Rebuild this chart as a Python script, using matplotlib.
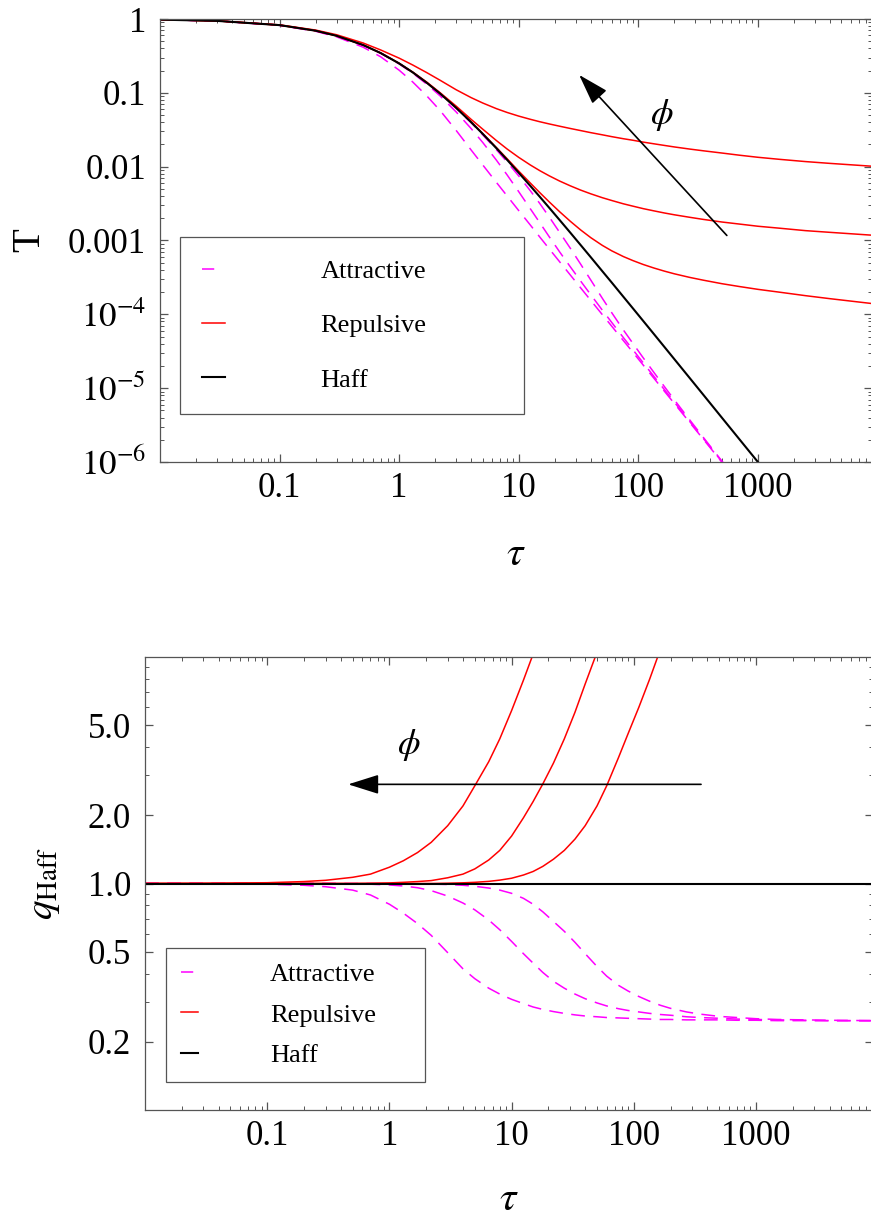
import matplotlib
matplotlib.use('Agg')
import matplotlib.pyplot as plt
from matplotlib.ticker import FixedLocator, NullFormatter

plt.rcParams['font.family'] = ['Liberation Serif', 'DejaVu Serif']
plt.rcParams['mathtext.fontset'] = 'stix'

# time grid shared by every curve
tau = [0.01, 0.03, 0.1, 0.2, 0.3, 0.5, 0.7, 1, 1.3, 1.7, 2.2, 3, 4, 5, 6.5, 8, 10, 12.5, 15, 18,
       22, 27, 33, 40, 50, 60, 75, 90, 110, 135, 165, 200, 270, 350, 500, 700, 1000, 1500, 2500,
       4000, 9000]

# temperature T(tau), upper panel
T_haff = [0.980, 0.943, 0.826, 0.694, 0.592, 0.444, 0.346, 0.25, 0.189, 0.137, 0.0977, 0.0625,
          0.04, 0.0278, 0.01778, 0.01235, 0.00826, 0.00549, 0.00391, 0.00277, 0.00189, 0.001276,
          8.65e-4, 5.95e-4, 3.84e-4, 2.69e-4, 1.73e-4, 1.208e-4, 8.12e-5, 5.41e-5, 3.63e-5,
          2.475e-5, 1.362e-5, 8.12e-6, 3.98e-6, 2.035e-6, 1.0e-6]
T_rep1 = [0.980, 0.945, 0.833, 0.708, 0.612, 0.473, 0.381, 0.295, 0.238, 0.188, 0.148, 0.110,
          0.0861, 0.0728, 0.0611, 0.0542, 0.0484, 0.0438, 0.0406, 0.0379, 0.0353, 0.0329, 0.0308,
          0.0289, 0.0270, 0.0255, 0.0239, 0.0228, 0.0215, 0.0204, 0.0194, 0.0185, 0.0173, 0.0164,
          0.0153, 0.0143, 0.0134, 0.01259, 0.01172, 0.01108, 0.01014]
T_rep2 = [0.980, 0.943, 0.826, 0.694, 0.592, 0.444, 0.347, 0.2515, 0.191, 0.14, 0.1004, 0.0660,
          0.0437, 0.0322, 0.0226, 0.01733, 0.01336, 0.01054, 0.00883, 0.00751, 0.00638, 0.00550,
          0.00481, 0.00429, 0.00380, 0.00348, 0.00314, 0.00292, 0.00270, 0.00252, 0.00236,
          0.00223, 0.00206, 0.00193, 0.00178, 0.00167, 0.00156, 0.00147, 0.00136, 0.00129, 0.00118]
T_rep3 = [0.980, 0.943, 0.826, 0.694, 0.592, 0.444, 0.346, 0.25, 0.189, 0.137, 0.0977, 0.0627,
          0.0403, 0.0281, 0.0182, 0.0128, 0.0087, 0.0060, 0.00445, 0.00333, 0.00245, 0.00182,
          0.001387, 0.001094, 8.59e-4, 7.24e-4, 6.06e-4, 5.35e-4, 4.73e-4, 4.24e-4, 3.85e-4,
          3.54e-4, 3.16e-4, 2.90e-4, 2.60e-4, 2.38e-4, 2.18e-4, 2.00e-4, 1.79e-4, 1.63e-4, 1.40e-4]
T_att1 = [0.980, 0.942, 0.820, 0.682, 0.573, 0.415, 0.308, 0.2025, 0.140, 0.0911, 0.0576, 0.0309,
          0.0168, 0.01056, 0.00613, 0.00401, 0.00254, 0.00162, 0.001114, 7.70e-4, 5.14e-4,
          3.41e-4, 2.275e-4, 1.547e-4, 9.91e-5, 6.89e-5, 4.41e-5, 3.07e-5, 2.05e-5, 1.363e-5,
          9.11e-6, 6.21e-6, 3.405e-6, 2.03e-6, 9.95e-7, 5.07e-7]
T_att2 = [0.980, 0.943, 0.826, 0.694, 0.592, 0.443, 0.3436, 0.246, 0.1843, 0.1312, 0.0909, 0.055,
          0.0328, 0.02127, 0.01227, 0.00772, 0.00458, 0.00269, 0.00174, 0.001122, 6.99e-4,
          4.40e-4, 2.81e-4, 1.845e-4, 1.14e-4, 7.75e-5, 4.84e-5, 3.32e-5, 2.20e-5, 1.444e-5,
          9.58e-6, 6.48e-6, 3.51e-6, 2.08e-6, 1.01e-6, 5.13e-7]
T_att3 = [0.980, 0.943, 0.826, 0.694, 0.592, 0.444, 0.346, 0.2495, 0.1884, 0.1365, 0.0971, 0.0619,
          0.0393, 0.0270, 0.01698, 0.01155, 0.00748, 0.00472, 0.00317, 0.00208, 0.001285,
          7.85e-4, 4.76e-4, 2.92e-4, 1.65e-4, 1.05e-4, 6.14e-5, 4.05e-5, 2.57e-5, 1.634e-5,
          1.053e-5, 6.95e-6, 3.69e-6, 2.15e-6, 1.03e-6, 5.21e-7]

# ratio to the Haff law, lower panel
q_haff = [1.0, 1.0, 1.0, 1.0, 1.0, 1.0, 1.0, 1.0, 1.0, 1.0, 1.0, 1.0, 1.0, 1.0, 1.0, 1.0, 1.0,
          1.0, 1.0, 1.0, 1.0, 1.0, 1.0, 1.0, 1.0, 1.0, 1.0, 1.0, 1.0, 1.0, 1.0, 1.0, 1.0, 1.0,
          1.0, 1.0, 1.0, 1.0, 1.0, 1.0, 1.0]
q_rep1 = [1.0, 1.002, 1.008, 1.02, 1.033, 1.065, 1.1, 1.18, 1.26, 1.37, 1.52, 1.8, 2.2, 2.7,
          3.45, 4.35, 5.8, 7.9, 10.3, 14.0]
q_rep2 = [1.0, 1.0, 1.0, 1.0, 1.0, 1.0, 1.002, 1.006, 1.012, 1.02, 1.03, 1.06, 1.1, 1.16, 1.27,
          1.4, 1.62, 1.95, 2.3, 2.75, 3.4, 4.35, 5.7, 7.6, 10.5, 14.0]
q_rep3 = [1.0, 1.0, 1.0, 1.0, 1.0, 1.0, 1.0, 1.0, 1.0, 1.0, 1.0, 1.003, 1.007, 1.012, 1.022,
          1.035, 1.055, 1.09, 1.13, 1.19, 1.28, 1.4, 1.57, 1.8, 2.2, 2.7, 3.6, 4.6, 6.0, 8.0,
          10.8, 14.5]
q_att1 = [1.0, 0.999, 0.993, 0.982, 0.968, 0.935, 0.89, 0.81, 0.74, 0.665, 0.59, 0.495, 0.42,
          0.38, 0.345, 0.325, 0.308, 0.295, 0.285, 0.278, 0.272, 0.267, 0.263, 0.26, 0.258,
          0.256, 0.255, 0.254, 0.253, 0.252, 0.251, 0.251, 0.25, 0.25, 0.25, 0.249, 0.249,
          0.248, 0.248, 0.248, 0.248]
q_att2 = [1.0, 1.0, 1.0, 1.0, 1.0, 0.997, 0.993, 0.985, 0.975, 0.958, 0.93, 0.88, 0.82, 0.765,
          0.69, 0.625, 0.555, 0.49, 0.445, 0.405, 0.37, 0.345, 0.325, 0.31, 0.297, 0.288, 0.28,
          0.275, 0.271, 0.267, 0.264, 0.262, 0.258, 0.256, 0.254, 0.252, 0.251, 0.25, 0.249,
          0.248, 0.248]
q_att3 = [1.0, 1.0, 1.0, 1.0, 1.0, 1.0, 1.0, 0.998, 0.997, 0.996, 0.994, 0.99, 0.982, 0.972,
          0.955, 0.935, 0.905, 0.86, 0.81, 0.75, 0.68, 0.615, 0.55, 0.49, 0.43, 0.39, 0.355,
          0.335, 0.317, 0.302, 0.29, 0.281, 0.271, 0.265, 0.259, 0.256, 0.253, 0.251, 0.25,
          0.249, 0.248]

labels = ['Attractive', 'Repulsive', 'Haff']
MAG = '#ff00ff'
RED = '#ff0000'
FRAME = '#555555'
DASH = (9, 5.5)

x_major = [0.1, 1, 10, 100, 1000]
x_labels = ['0.1', '1', '10', '100', '1000']
x_minor = [m * 10.0 ** e for e in range(-2, 4) for m in range(2, 10)]

fig = plt.figure(figsize=(8.71, 12.17), dpi=100)
ax1 = fig.add_axes([160 / 871, 1 - 462 / 1217, 712 / 871, 443 / 1217])
ax2 = fig.add_axes([145 / 871, 1 - 1110 / 1217, 727.6 / 871, 453 / 1217])


def style_frame(ax):
    for s in ax.spines.values():
        s.set_color(FRAME)
        s.set_linewidth(0.9)
    ax.tick_params(which='both', direction='in', top=True, right=True, color=FRAME)
    ax.tick_params(which='major', length=6, width=0.9, labelsize=25)
    ax.tick_params(which='minor', length=3, width=0.7)
    ax.tick_params(axis='x', pad=7)
    ax.tick_params(axis='y', pad=10)
    ax.set_xscale('log')
    ax.set_yscale('log')
    ax.set_xlim(0.01, 9000)
    ax.xaxis.set_major_locator(FixedLocator(x_major))
    ax.set_xticklabels(x_labels)
    ax.xaxis.set_minor_locator(FixedLocator(x_minor))
    ax.xaxis.set_minor_formatter(NullFormatter())


def add_legend(ax, handles, anchor, **kw):
    leg = ax.legend(handles, labels, loc='upper left', bbox_to_anchor=anchor, mode='expand',
                    borderaxespad=0, fontsize=19, fancybox=False, edgecolor=FRAME,
                    framealpha=1, **kw)
    leg.get_frame().set_linewidth(0.9)
    # a single short dash for the dashed entry
    leg.get_lines()[0].set_dashes((8, 30))
    return leg


def phi_arrow(ax, head, tail):
    ax.annotate('', xy=head, xytext=tail,
                arrowprops=dict(arrowstyle='-|>,head_length=0.95,head_width=0.3', color='k',
                                lw=1.2, mutation_scale=20, shrinkA=0, shrinkB=0))


# ---- upper panel: T(tau)
for T in (T_att1, T_att2, T_att3):
    la, = ax1.plot(tau[:len(T)], T, color=MAG, lw=1.1, dashes=DASH)
for T in (T_rep1, T_rep2, T_rep3):
    lr, = ax1.plot(tau[:len(T)], T, color=RED, lw=1.1)
lh, = ax1.plot(tau[:len(T_haff)], T_haff, color='k', lw=1.5)

style_frame(ax1)
ax1.set_ylim(1e-6, 1)
ax1.yaxis.set_major_locator(FixedLocator([1e-6, 1e-5, 1e-4, 1e-3, 1e-2, 1e-1, 1]))
ax1.set_yticklabels([r'$10^{-6}$', r'$10^{-5}$', r'$10^{-4}$', '0.001', '0.01', '0.1', '1'])
ax1.yaxis.set_minor_locator(FixedLocator([m * 10.0 ** e for e in range(-6, 0) for m in range(2, 10)]))
ax1.yaxis.set_minor_formatter(NullFormatter())
ax1.set_ylabel('T', fontsize=28)
ax1.yaxis.set_label_coords(-0.157, 0.5)
ax1.set_xlabel(r'$\tau$', fontsize=30)
ax1.xaxis.set_label_coords(0.5, -0.166)

add_legend(ax1, [la, lr, lh], (0.0281, 0.0, 0.483, 0.508), handlelength=0.87,
           handletextpad=3.6, labelspacing=1.17, borderpad=0.85)

phi_arrow(ax1, (32, 0.175), (550, 0.00117))
ax1.text(158, 0.05, r'$\phi$', fontsize=26, ha='center', va='center')

# ---- lower panel: q_Haff(tau)
for q in (q_att1, q_att2, q_att3):
    la, = ax2.plot(tau[:len(q)], q, color=MAG, lw=1.1, dashes=DASH)
for q in (q_rep1, q_rep2, q_rep3):
    lr, = ax2.plot(tau[:len(q)], q, color=RED, lw=1.1)
lh, = ax2.plot(tau, q_haff, color='k', lw=1.5)

style_frame(ax2)
ax2.set_ylim(0.1, 10)
ax2.yaxis.set_major_locator(FixedLocator([0.2, 0.5, 1.0, 2.0, 5.0]))
ax2.set_yticklabels(['0.2', '0.5', '1.0', '2.0', '5.0'])
ax2.yaxis.set_minor_locator(FixedLocator([0.3, 0.4, 0.6, 0.7, 0.8, 0.9, 3, 4, 6, 7, 8, 9]))
ax2.yaxis.set_minor_formatter(NullFormatter())
ax2.set_ylabel(r'$q_{\mathrm{Haff}}$', fontsize=28)
ax2.yaxis.set_label_coords(-0.114, 0.5)
ax2.set_xlabel(r'$\tau$', fontsize=30)
ax2.xaxis.set_label_coords(0.5, -0.155)

add_legend(ax2, [la, lr, lh], (0.0289, 0.0, 0.356, 0.3576), handlelength=0.68,
           handletextpad=2.7, labelspacing=0.65, borderpad=0.55)

phi_arrow(ax2, (0.46, 2.74), (355, 2.74))
ax2.text(1.43, 4.08, r'$\phi$', fontsize=26, ha='center', va='center')

fig.savefig('out.png', dpi=100)
